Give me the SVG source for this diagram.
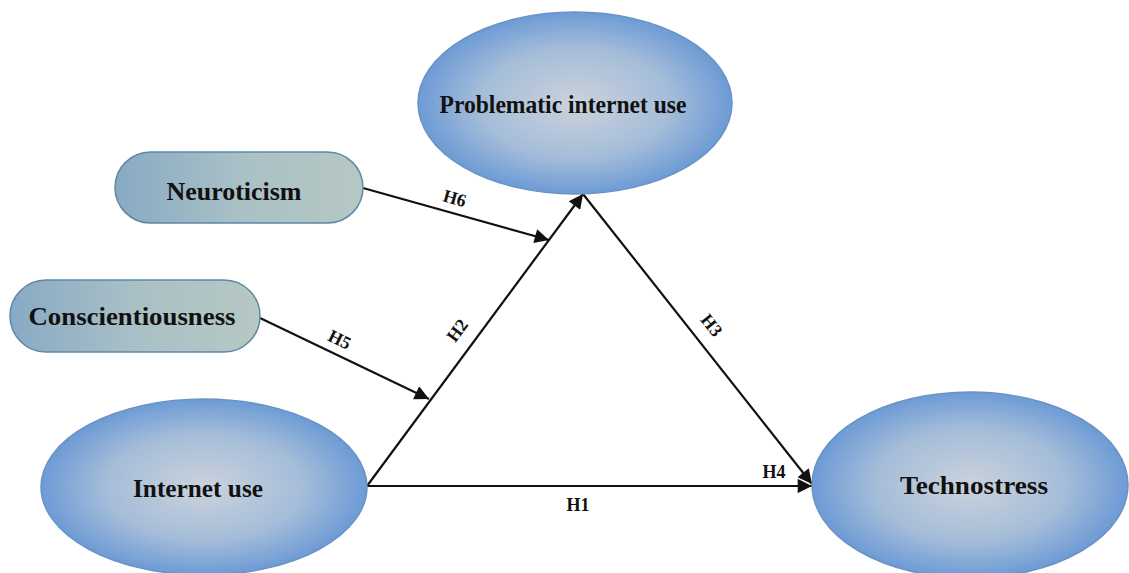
<svg xmlns="http://www.w3.org/2000/svg" width="1129" height="573" viewBox="0 0 1129 573">
<defs>
<radialGradient id="eg" cx="50%" cy="50%" r="50%">
<stop offset="0" stop-color="#cbd2db"/>
<stop offset="0.6" stop-color="#a5bdd9"/>
<stop offset="1" stop-color="#6d9bd5"/>
</radialGradient>
<linearGradient id="pg" x1="0" y1="0" x2="1" y2="0">
<stop offset="0" stop-color="#88aac4"/>
<stop offset="0.5" stop-color="#a9c0c6"/>
<stop offset="1" stop-color="#b6c8c3"/>
</linearGradient>
<marker id="ah" viewBox="0 0 10 10" refX="10" refY="5" markerWidth="8.5" markerHeight="6.5" markerUnits="strokeWidth" orient="auto">
<path d="M0,0 L10,5 L0,10 z" fill="#111"/>
</marker>
<style>
.ell{fill:url(#eg);stroke:#6a93c4;stroke-width:1.5}
.pill{fill:url(#pg);stroke:#5d88a8;stroke-width:1.5}
.t{font-family:"Liberation Serif","Times New Roman",serif;font-weight:bold;font-size:25px;fill:#111;text-anchor:middle}
.lb{font-family:"Liberation Serif","Times New Roman",serif;font-weight:bold;font-size:18px;fill:#111;text-anchor:middle}
.c{stroke:#111;stroke-width:2.2;fill:none}
</style>
</defs>
<rect width="1129" height="573" fill="#fff"/>
<g id="connectors">
<line class="c" x1="367" y1="486" x2="812" y2="486" marker-end="url(#ah)"/>
<line class="c" x1="367" y1="486" x2="583" y2="194" marker-end="url(#ah)"/>
<line class="c" x1="583" y1="194" x2="812" y2="484" marker-end="url(#ah)"/>
<line class="c" x1="363" y1="188" x2="549" y2="240" marker-end="url(#ah)"/>
<line class="c" x1="260" y1="318" x2="429" y2="399" marker-end="url(#ah)"/>
<text class="lb" transform="translate(453,204) rotate(15.7)">H6</text>
<text class="lb" transform="translate(337,345) rotate(26)">H5</text>
<text class="lb" transform="translate(462,334) rotate(-53.4)">H2</text>
<text class="lb" transform="translate(707,329) rotate(51.7)">H3</text>
<text class="lb" x="774" y="478">H4</text>
<text class="lb" x="578" y="511">H1</text>
</g>
<g id="node-problematic">
<ellipse class="ell" cx="575" cy="103" rx="157" ry="91"/>
<text class="t" x="563" y="113" textLength="247" lengthAdjust="spacingAndGlyphs">Problematic internet use</text>
</g>
<g id="node-neuroticism">
<rect class="pill" x="115" y="152" width="248" height="71" rx="35.5"/>
<text class="t" x="234" y="200" textLength="135" lengthAdjust="spacingAndGlyphs">Neuroticism</text>
</g>
<g id="node-conscientiousness">
<rect class="pill" x="10" y="280" width="250" height="72" rx="36"/>
<text class="t" x="132" y="325" textLength="207" lengthAdjust="spacingAndGlyphs">Conscientiousness</text>
</g>
<g id="node-internet-use">
<ellipse class="ell" cx="204" cy="487" rx="163" ry="88"/>
<text class="t" x="198" y="497" textLength="130" lengthAdjust="spacingAndGlyphs">Internet use</text>
</g>
<g id="node-technostress">
<ellipse class="ell" cx="970" cy="485" rx="158" ry="93"/>
<text class="t" x="974" y="494" textLength="148" lengthAdjust="spacingAndGlyphs">Technostress</text>
</g>
</svg>
